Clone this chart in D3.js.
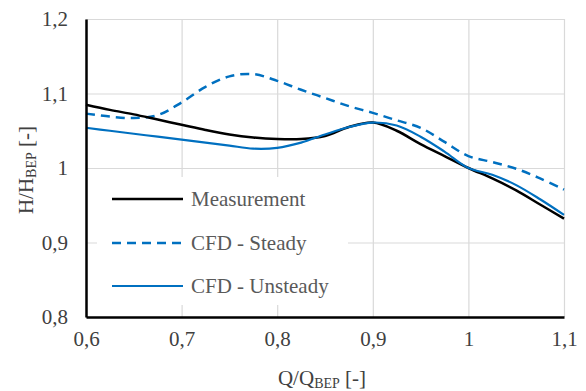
<!DOCTYPE html>
<html>
<head>
<meta charset="utf-8">
<script src="https://cdn.jsdelivr.net/npm/d3@7"></script>
<style>
  body { margin: 0; background: #fff; }
  svg text { font-family: "Liberation Serif", "Times New Roman", serif; }
</style>
</head>
<body>
<div id="graph"></div>
<script>
// chart data
const flowRatio = [0.6, 0.625, 0.65, 0.675, 0.7, 0.725, 0.75, 0.775, 0.8, 0.825, 0.85,
                   0.875, 0.9, 0.925, 0.95, 0.975, 1.0, 1.025, 1.05, 1.075, 1.1];
const measurement = [1.085, 1.078, 1.072, 1.065, 1.058, 1.051, 1.045, 1.041, 1.039, 1.039, 1.043,
                     1.055, 1.061, 1.050, 1.032, 1.016, 1.000, 0.986, 0.970, 0.951, 0.932];
const cfdSteady = [1.073, 1.069, 1.067, 1.071, 1.088, 1.109, 1.123, 1.126, 1.117, 1.105, 1.094,
                   1.083, 1.074, 1.064, 1.054, 1.035, 1.016, 1.008, 0.999, 0.986, 0.971];
const cfdUnsteady = [1.054, 1.050, 1.046, 1.042, 1.038, 1.034, 1.030, 1.026, 1.027, 1.034, 1.045,
                     1.055, 1.061, 1.057, 1.042, 1.022, 1.000, 0.991, 0.977, 0.958, 0.937];
const seriesNames = ["Measurement", "CFD - Steady", "CFD - Unsteady"];
const xTicks = [0.6, 0.7, 0.8, 0.9, 1.0, 1.1];
const xTickLabels = ["0,6", "0,7", "0,8", "0,9", "1", "1,1"];
const yTicks = [0.8, 0.9, 1.0, 1.1, 1.2];
const yTickLabels = ["0,8", "0,9", "1", "1,1", "1,2"];

const W = 586, H = 391;
const PL = 86, PR = 564, PT = 19, PB = 317;
const FONT = "'Liberation Serif', 'Times New Roman', serif";

const svg = d3.select("#graph").append("svg").attr("width", W).attr("height", H);

const x = d3.scaleLinear().domain([0.6, 1.1]).range([PL, PR]);
const y = d3.scaleLinear().domain([0.8, 1.2]).range([PB, PT]);

/* grid */
svg.append("g")
    .attr("transform", "translate(0," + PB + ")")
    .call(d3.axisBottom(x).tickValues(xTicks).tickSize(-(PB - PT)).tickFormat(""))
    .call(g => g.select(".domain").remove())
    .call(g => g.selectAll("line").attr("stroke", "#d9d9d9").attr("stroke-width", 1.2));
svg.append("g")
    .attr("transform", "translate(" + PL + ",0)")
    .call(d3.axisLeft(y).tickValues(yTicks).tickSize(-(PR - PL)).tickFormat(""))
    .call(g => g.select(".domain").remove())
    .call(g => g.selectAll("line").attr("stroke", "#d9d9d9").attr("stroke-width", 1.2));

/* lines */
const pts = vals => vals.map((v, i) => [flowRatio[i], v]);
const line = d3.line().x(d => x(d[0])).y(d => y(d[1])).curve(d3.curveCatmullRom.alpha(0.5));

const series = [
    { name: seriesNames[0], data: measurement, color: "#000000", width: 2.5, dash: null },
    { name: seriesNames[1], data: cfdSteady, color: "#0070c0", width: 2.5, dash: "9,6" },
    { name: seriesNames[2], data: cfdUnsteady, color: "#0070c0", width: 2.2, dash: null }
];

// steady first, then measurement, unsteady on top
[series[1], series[0], series[2]].forEach(s => {
    svg.append("path")
        .datum(pts(s.data))
        .attr("d", line)
        .attr("fill", "none")
        .attr("stroke", s.color)
        .attr("stroke-width", s.width)
        .attr("stroke-dasharray", s.dash);
});

/* axes */
const xAxis = svg.append("g")
    .attr("transform", "translate(0," + PB + ")")
    .call(d3.axisBottom(x).tickValues(xTicks).tickSize(0).tickPadding(14)
        .tickFormat((d, i) => xTickLabels[i]));
xAxis.attr("font-family", null);
xAxis.select(".domain").attr("stroke", "#000").attr("stroke-width", 2.5);
xAxis.selectAll("text").attr("fill", "#404040")
    .style("font-size", "21px").style("font-family", FONT);

const yAxis = svg.append("g")
    .attr("transform", "translate(" + PL + ",0)")
    .call(d3.axisLeft(y).tickValues(yTicks).tickSize(0).tickPadding(18)
        .tickFormat((d, i) => yTickLabels[i]));
yAxis.attr("font-family", null);
yAxis.select(".domain").attr("stroke", "#000").attr("stroke-width", 2.5);
yAxis.selectAll("text").attr("fill", "#404040")
    .style("font-size", "21px").style("font-family", FONT);

/* axis titles */
const xt = svg.append("text")
    .attr("x", 322).attr("y", 385)
    .attr("text-anchor", "middle")
    .attr("font-size", 21).attr("fill", "#404040");
xt.append("tspan").text("Q/Q");
xt.append("tspan").attr("font-size", 14).attr("dy", 3).text("BEP");
xt.append("tspan").attr("dy", -3).text(" [-]");

const yt = svg.append("text")
    .attr("transform", "translate(33,170) rotate(-90)")
    .attr("text-anchor", "middle")
    .attr("font-size", 21).attr("fill", "#404040");
yt.append("tspan").text("H/H");
yt.append("tspan").attr("font-size", 14).attr("dy", 3).text("BEP");
yt.append("tspan").attr("dy", -3).text(" [-]");

/* legend */
svg.append("rect")
    .attr("x", 97).attr("y", 177).attr("width", 251).attr("height", 128)
    .attr("fill", "#fff");
const legendY = [199, 243, 286];
series.forEach((s, i) => {
    svg.append("line")
        .attr("x1", 112).attr("x2", 183)
        .attr("y1", legendY[i]).attr("y2", legendY[i])
        .attr("stroke", s.color)
        .attr("stroke-width", s.width)
        .attr("stroke-dasharray", s.dash);
    svg.append("text")
        .attr("x", 191).attr("y", legendY[i])
        .attr("dy", "0.35em")
        .attr("font-size", 21)
        .attr("fill", "#595959")
        .text(s.name);
});
</script>
</body>
</html>
